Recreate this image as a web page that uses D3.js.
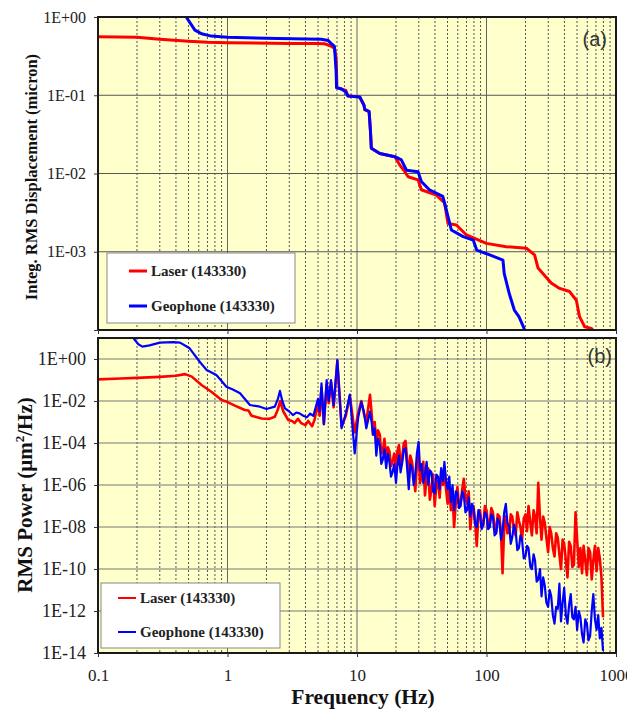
<!DOCTYPE html>
<html><head><meta charset="utf-8">
<script src="https://cdn.jsdelivr.net/npm/d3@7"></script>
<style>body{margin:0;background:#fff}</style>
</head><body><svg id="c" width="627" height="709" xmlns="http://www.w3.org/2000/svg"></svg>
<script>
// ---------- Panel (a): integrated RMS displacement (micron) ----------
const laserIntFreq = [0.1,0.2,0.3,0.5,0.7,1.0,3.0,5.0,5.6,6.2,6.7,6.9,7.0,7.6,8.2,8.5,10.5,11.3,11.5,12.4,12.7,12.9,15,19.6,21.4,23,24.8,29.6,31.4,41,47.5,50.4,58.6,70,99.8,142,203,235,250,316,367,438,494,523,573,644,700];
const laserInt     = [0.56,0.55,0.52,0.49,0.475,0.47,0.46,0.46,0.455,0.43,0.40,0.30,0.125,0.12,0.115,0.098,0.095,0.075,0.065,0.062,0.035,0.021,0.018,0.0164,0.0128,0.011,0.0091,0.0083,0.0062,0.0053,0.0042,0.0023,0.0022,0.00164,0.00128,0.00116,0.00111,0.00091,0.00062,0.00040,0.00034,0.00031,0.00024,0.000148,0.00011,0.000105,0.00009];
const geoIntFreq   = [0.4,0.48,0.56,0.63,0.75,1.0,2.46,5.3,6.0,6.3,6.7,6.9,6.95,7.6,8.2,8.5,10.5,11.3,11.5,12.4,12.7,12.9,15,19.6,22,24.1,29.6,31.4,36.2,46,49,53.5,66,79,84,106,134,137,150,164,178,195,205];
const geoInt       = [1.5,1.0,0.68,0.61,0.57,0.55,0.53,0.52,0.50,0.46,0.42,0.2,0.125,0.12,0.11,0.098,0.095,0.075,0.066,0.062,0.035,0.021,0.018,0.0164,0.0149,0.011,0.0105,0.0079,0.0062,0.0051,0.0034,0.0019,0.00156,0.00141,0.00105,0.00091,0.00078,0.00053,0.00029,0.00018,0.000148,0.000105,0.00008];

// ---------- Panel (b): RMS power spectral density (log10 of um^2/Hz) ----------
const laserPsdLowFreq = [0.1,0.15,0.2,0.3,0.4,0.47,0.53,0.63,0.75,0.9,1.0,1.14,1.36,1.45,1.53,1.83,2.1,2.32,2.45,2.55,2.7,2.94,3.15,3.3,3.5,3.7,4.0,4.2,4.5,4.7];
const laserPsdLowLog  = [-0.97,-0.93,-0.9,-0.85,-0.8,-0.72,-0.84,-1.24,-1.56,-1.95,-2.05,-2.22,-2.43,-2.45,-2.7,-2.83,-2.85,-2.75,-2.4,-2.0,-2.5,-2.9,-2.95,-3.05,-2.85,-3.05,-3.15,-2.95,-3.2,-2.9];
const geoPsdLowFreq   = [0.17,0.19,0.205,0.22,0.25,0.3,0.38,0.43,0.51,0.61,0.69,0.82,0.9,0.98,1.1,1.25,1.49,1.78,2.0,2.32,2.45,2.54,2.65,2.78,3.0,3.2,3.4,3.6,3.85,4.1,4.35,4.6];
const geoPsdLowLog    = [1.3,0.95,0.7,0.59,0.65,0.78,0.8,0.78,0.51,-0.13,-0.52,-0.76,-1.05,-1.32,-1.45,-1.63,-2.19,-2.27,-2.38,-2.27,-1.9,-1.52,-2.0,-2.35,-2.5,-2.67,-2.55,-2.59,-2.7,-2.78,-2.6,-2.71];
const psdHighFreq = [4.8,5.0,5.15,5.32,5.55,5.83,6.05,6.3,6.6,7.05,7.6,8.2,8.8,9.6,10.2,10.8,11.3,11.8,
  12.6,12.97,13.3,13.7,14.1,14.5,15.0,15.4,15.8,16.3,16.8,17.3,17.8,18.3,18.8,19.4,20.0,20.5,21.1,21.7,22.4,23.0,23.7,24.4,25.1,25.8,26.6,27.4,28.2,29.0,29.9,30.7,
  31.6,32.5,33.5,34.5,35.5,36.5,37.6,38.7,39.8,41.0,42.2,43.5,44.7,46.1,47.3,48.7,50.1,51.6,53.1,54.7,56.2,58.0,59.6,61.4,63.1,65.0,66.8,68.8,70.8,72.9,
  75.0,77.2,79.4,81.8,84.1,86.6,89.1,91.7,94.4,97.2,100,103,106,109,112,115.5,119,122,126,129.5,133,137,141,145,150,154,158,163,168,173,
  178,183,188,194,200,205.5,211,218,224,231,237,244,251,259,266,274,282,290,299,307.5,316,325.5,335,345,355,365.5,376,387,398,410,
  422,434.5,447,460,473,487,501,516,531,546.5,562,579,596,613,631,649.5,668,688,708,729,750,772,794];
const laserPsdHighLog = [-2.6,-2.2,-2.7,-1.4,-3.1,-1.2,-2.1,-1.1,-2.3,-0.1,-3.2,-2.7,-1.75,-3.5,-2.6,-2.0,-2.6,-3.0,
  -1.7,-2.6,-3.6,-3.0,-4.1,-3.4,-3.6,-4.5,-4.4,-3.8,-4.9,-4.2,-4.4,-5.1,-4.9,-4.5,-5.2,-4.4,-4.1,-5.0,-4.6,-4.0,-3.9,-4.8,-5.7,-4.6,-4.9,-5.6,-6.3,-5.0,-4.6,-5.9,
  -5.5,-4.9,-6.5,-5.6,-5.2,-6.7,-6.2,-5.5,-7.0,-6.0,-5.8,-6.6,-5.3,-6.0,-5.2,-6.2,-6.9,-6.1,-7.2,-6.5,-8.0,-6.8,-6.1,-7.0,-6.9,-6.2,-5.7,-6.6,-6.9,-6.3,
  -8.1,-7.2,-7.0,-7.8,-8.9,-7.4,-7.2,-8.0,-7.9,-7.0,-7.2,-8.0,-7.8,-7.1,-7.3,-8.0,-8.2,-7.4,-7.5,-8.3,-10.2,-8.0,-7.5,-8.3,-8.2,-7.4,-7.5,-8.1,-8.4,-7.3,
  -7.7,-8.0,-8.6,-7.6,-7.4,-8.2,-7.0,-7.8,-8.4,-7.2,-7.5,-8.3,-5.9,-7.6,-8.6,-7.5,-7.8,-8.5,-9.2,-8.0,-8.3,-9.0,-9.4,-8.3,-8.5,-9.3,-10.0,-8.6,-8.8,-9.6,
  -10.4,-8.7,-8.9,-9.9,-9.8,-7.3,-8.6,-9.9,-9.0,-10.2,-8.9,-9.6,-10.3,-9.0,-9.2,-10.5,-9.6,-8.9,-10.1,-9.0,-9.5,-10.4,-12.3];
const geoPsdHighLog   = [-2.3,-1.9,-2.5,-1.16,-3.1,-1.0,-2.0,-1.0,-2.2,-0.05,-3.3,-2.6,-1.7,-4.5,-2.8,-2.05,-2.5,-3.3,
  -2.5,-3.0,-3.6,-3.3,-4.6,-3.8,-4.1,-5.0,-4.8,-4.3,-5.2,-4.5,-4.9,-5.6,-5.4,-5.0,-5.9,-5.1,-4.6,-5.4,-4.9,-4.3,-4.25,-5.2,-6.2,-5.0,-5.2,-6.0,-5.5,-4.5,-3.95,-5.3,
  -5.0,-5.9,-5.5,-4.9,-6.0,-5.3,-5.4,-6.3,-6.4,-5.5,-5.6,-6.2,-5.2,-5.8,-4.9,-5.8,-6.2,-5.6,-6.8,-6.0,-7.2,-6.3,-6.4,-7.1,-7.0,-6.3,-6.5,-7.3,-7.2,-6.6,
  -7.5,-6.9,-7.1,-7.9,-8.0,-7.2,-7.4,-8.1,-7.9,-7.3,-7.4,-8.1,-8.0,-7.4,-7.5,-8.4,-8.3,-7.6,-7.8,-8.6,-8.2,-7.3,-6.9,-7.8,-8.0,-8.8,-8.5,-7.9,-8.2,-9.1,
  -9.0,-8.4,-8.6,-9.5,-9.4,-8.9,-9.0,-9.9,-10.0,-9.3,-9.6,-10.6,-10.5,-10.0,-11.3,-10.4,-10.8,-11.6,-11.8,-11.0,-11.3,-12.2,-12.6,-11.8,-11.9,-10.7,-12.5,-11.6,-10.9,-12.2,
  -12.6,-11.7,-11.2,-12.3,-12.4,-11.8,-12.9,-12.0,-12.3,-13.1,-13.5,-12.4,-12.6,-13.4,-13.2,-12.0,-11.2,-12.4,-12.9,-12.2,-13.3,-12.8,-13.9];

const xTickValues = [0.1,1,10,100,1000];
const seriesNames = ["Laser (143330)","Geophone (143330)"];
const seriesColors = ["#ff0000","#0000ff"];

// ---------- drawing ----------
const svg = d3.select("#c");
svg.append("rect").attr("width",627).attr("height",709).attr("fill","#fff");
const x = d3.scaleLog().domain([0.1,1000]).range([98,616]);
const yA = d3.scaleLog().domain([1e-4,1]).range([330,17]);
const yB = d3.scaleLog().domain([1e-14,10]).range([653,338]);
const isDecade = v => Math.abs(Math.log10(v)-Math.round(Math.log10(v)))<1e-6;
const fmtE = v => { const e=Math.round(Math.log10(v)); return "1E"+(e<0?"-":"+")+String(Math.abs(e)).padStart(2,"0"); };
const serif = "'Liberation Serif','Times New Roman',serif";

function panel(id, y, yLabelVals, yFont, hLineColor, series){
  const [x0,x1]=x.range(), [y1,y0]=y.range();
  const g=svg.append("g");
  g.append("rect").attr("x",x0).attr("y",y0).attr("width",x1-x0).attr("height",y1-y0).attr("fill","#ffffcc");
  g.append("g").selectAll("line").data(x.ticks()).join("line")
    .attr("x1",d=>x(d)).attr("x2",d=>x(d)).attr("y1",y0).attr("y2",y1)
    .attr("stroke",d=>isDecade(d)?"#666":"#555").attr("stroke-width",1)
    .attr("stroke-dasharray",d=>isDecade(d)?null:"2,2");
  const decs=y.ticks().filter(isDecade);
  g.append("g").selectAll("line").data(decs).join("line")
    .attr("x1",x0).attr("x2",x1).attr("y1",d=>y(d)).attr("y2",d=>y(d))
    .attr("stroke",hLineColor).attr("stroke-width",1);
  svg.append("clipPath").attr("id","clip"+id).append("rect")
    .attr("x",x0).attr("y",y0).attr("width",x1-x0).attr("height",y1-y0);
  const line=d3.line().x(d=>x(d[0])).y(d=>y(d[1]));
  const lg=g.append("g").attr("clip-path",`url(#clip${id})`);
  series.forEach(s=>{
    lg.append("path").datum(s.data).attr("d",line).attr("fill","none")
      .attr("stroke",s.color).attr("stroke-width",s.width).attr("stroke-linejoin","round");
  });
  g.append("rect").attr("x",x0).attr("y",y0).attr("width",x1-x0).attr("height",y1-y0)
    .attr("fill","none").attr("stroke","#1a1a1a").attr("stroke-width",2);
  const ya=g.append("g").attr("transform",`translate(${x0},0)`)
    .call(d3.axisLeft(y).tickValues(decs).tickSize(4).tickPadding(8)
      .tickFormat(d=>yLabelVals.some(v=>Math.abs(Math.log10(v)-Math.log10(d))<1e-6)?fmtE(d):""));
  ya.select(".domain").remove();
  ya.selectAll("line").attr("stroke","#333");
  ya.selectAll("text").attr("font-family",serif).attr("font-size",yFont).attr("fill","#222");
  return g;
}

panel("A", yA, [1,0.1,0.01,0.001], 16, "#555", [
  {data: laserIntFreq.map((f,i)=>[f,laserInt[i]]), color: seriesColors[0], width: 3},
  {data: geoIntFreq.map((f,i)=>[f,geoInt[i]]), color: seriesColors[1], width: 3}
]);
panel("B", yB, [1,1e-2,1e-4,1e-6,1e-8,1e-10,1e-12,1e-14], 18, "#777", [
  {data: laserPsdLowFreq.map((f,i)=>[f,Math.pow(10,laserPsdLowLog[i])]).concat(psdHighFreq.map((f,i)=>[f,Math.pow(10,laserPsdHighLog[i])])), color: seriesColors[0], width: 2.6},
  {data: geoPsdLowFreq.map((f,i)=>[f,Math.pow(10,geoPsdLowLog[i])]).concat(psdHighFreq.map((f,i)=>[f,Math.pow(10,geoPsdHighLog[i])])), color: seriesColors[1], width: 2.2}
]);

// x axes
const xaA = svg.append("g").attr("transform","translate(0,330)")
  .call(d3.axisBottom(x).tickValues(xTickValues).tickSize(4).tickFormat(""));
xaA.select(".domain").remove(); xaA.selectAll("line").attr("stroke","#333");
const xaB = svg.append("g").attr("transform","translate(0,653)")
  .call(d3.axisBottom(x).tickValues(xTickValues).tickSize(4).tickPadding(12).tickFormat(d=>String(d)));
xaB.select(".domain").remove(); xaB.selectAll("line").attr("stroke","#333");
xaB.selectAll("text").attr("font-family",serif).attr("font-size",17).attr("fill","#222");

// titles
svg.append("text").attr("transform","translate(37,177) rotate(-90)").attr("text-anchor","middle")
  .attr("font-family",serif).attr("font-weight","bold").attr("font-size",16.5).attr("fill","#111")
  .text("Integ. RMS Displacement (micron)");
const tB = svg.append("text").attr("transform","translate(32,495) rotate(-90)").attr("text-anchor","middle")
  .attr("font-family",serif).attr("font-weight","bold").attr("font-size",21).attr("fill","#111");
tB.append("tspan").text("RMS Power (µm");
tB.append("tspan").attr("font-size",13).attr("dy",-8).text("2");
tB.append("tspan").attr("dy",8).text("/Hz)");
svg.append("text").attr("x",363).attr("y",703.5).attr("text-anchor","middle")
  .attr("font-family",serif).attr("font-weight","bold").attr("font-size",21.5).attr("fill","#111")
  .text("Frequency (Hz)");
svg.append("text").attr("x",607).attr("y",46).attr("text-anchor","end")
  .attr("font-family","'Liberation Sans',Arial,sans-serif").attr("font-size",20).attr("fill","#333").text("(a)");
svg.append("text").attr("x",612).attr("y",363).attr("text-anchor","end")
  .attr("font-family","'Liberation Sans',Arial,sans-serif").attr("font-size",20).attr("fill","#333").text("(b)");

// legends
function legend(bx,by,bw,bh,rows,lx0,lx1,tx,lw){
  const g=svg.append("g");
  g.append("rect").attr("x",bx).attr("y",by).attr("width",bw).attr("height",bh)
    .attr("fill","#fff").attr("stroke","#888").attr("stroke-width",1);
  seriesNames.forEach((n,i)=>{
    g.append("line").attr("x1",lx0).attr("x2",lx1).attr("y1",rows[i]).attr("y2",rows[i])
      .attr("stroke",seriesColors[i]).attr("stroke-width",lw);
    g.append("text").attr("x",tx).attr("y",rows[i]+5).attr("font-family",serif).attr("font-weight","bold")
      .attr("font-size",15).attr("fill","#222").text(n);
  });
}
legend(107,253,188,70,[271,306],129,147,151,3);
legend(101,583,179,65,[598,632],118,136,140,2);
</script></body></html>
